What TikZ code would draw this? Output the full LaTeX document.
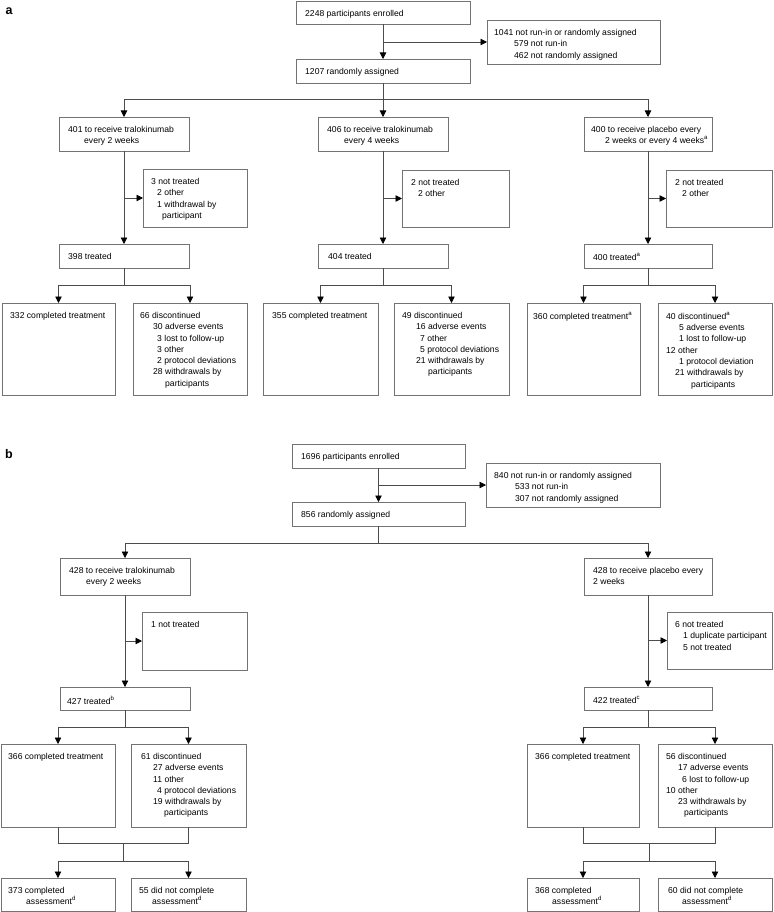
\documentclass[tikz,border=0pt]{standalone}
\usepackage{fontspec}
\setmainfont{Liberation Sans}
\usetikzlibrary{arrows.meta,calc}
\tikzset{
 box/.style={draw=black!55, line width=0.8pt, rectangle, inner sep=0pt, outer sep=0pt},
 txt/.style={anchor=north west, inner sep=0pt, align=left, font=\fontsize{8.6}{11.3}\selectfont},
 conn/.style={draw=black!70, line width=0.8pt},
 arr/.style={conn, -{Triangle[width=6.5pt,length=6.5pt,color=black]}},
 plabel/.style={font=\bfseries\fontsize{12.5}{12.5}\selectfont, inner sep=0pt}
}
\newcommand\myind[1]{\hspace*{#1pt}}
\newcommand\fsup[1]{\textsuperscript{#1}}
% name, x, y, w, h, pad, text
\newcommand\fbx[7]{%
 \node[box, minimum width=#4pt, minimum height=#5pt, anchor=north west] (#1) at (#2,#3) {};
 \node[txt] (#1t) at ([xshift=#6pt,yshift=-9pt]#1.north west) {#7};}
\begin{document}
\begin{tikzpicture}[x=1pt,y=-1pt]
\useasboundingbox (0,0) rectangle (773,912);
% ---------------- part a ----------------
\node[plabel] (pa) at (9,11) {a};
\fbx{a1}{296}{1}{174}{23}{9}{2248 participants enrolled}
\fbx{aex}{487}{20}{173}{44}{7}{1041 not run-in or randomly assigned\\ \myind{20}579 not run-in\\ \myind{20}462 not randomly assigned}
\fbx{a2}{296}{59}{174}{24}{9}{1207 randomly assigned}
\fbx{a3L}{59}{117}{130}{34}{9}{401 to receive tralokinumab\\ \myind{16}every 2 weeks}
\fbx{a3M}{318}{117}{130}{34}{9}{406 to receive tralokinumab\\ \myind{17}every 4 weeks}
\fbx{a3R}{584}{117}{128}{34}{7}{400 to receive placebo every\\ \myind{14}2 weeks or every 4 weeks\fsup{a}}
\fbx{a4L}{143}{169}{104}{58}{8}{3 not treated\\ \myind{6}2 other\\ \myind{6}1 withdrawal by\\ \myind{11}participant}
\fbx{a4M}{402}{170}{107}{57}{9}{2 not treated\\ \myind{7}2 other}
\fbx{a4R}{666}{170}{106}{57}{9}{2 not treated\\ \myind{7}2 other}
\fbx{a5L}{59}{244}{130}{24}{9}{398 treated}
\fbx{a5M}{318}{244}{130}{24}{10}{404 treated}
\fbx{a5R}{584}{244}{128}{24}{9}{400 treated\fsup{a}}
\fbx{a6L1}{2}{303}{113}{92}{8}{332 completed treatment}
\fbx{a6L2}{133}{303}{114}{92}{7}{66 discontinued\\ \myind{13}30 adverse events\\ \myind{17}3 lost to follow-up\\ \myind{17}3 other\\ \myind{17}2 protocol deviations\\ \myind{13}28 withdrawals by\\ \myind{25}participants}
\fbx{a6M1}{263}{303}{115}{92}{9}{355 completed treatment}
\fbx{a6M2}{394}{303}{115}{92}{8}{49 discontinued\\ \myind{14}16 adverse events\\ \myind{18}7 other\\ \myind{18}5 protocol deviations\\ \myind{14}21 withdrawals by\\ \myind{26}participants}
\fbx{a6R1}{527}{303}{113}{92}{6}{360 completed treatment\fsup{a}}
\fbx{a6R2}{658}{303}{114}{92}{8}{40 discontinued\fsup{a}\\ \myind{13}5 adverse events\\ \myind{13}1 lost to follow-up\\ 12 other\\ \myind{13}1 protocol deviation\\ \myind{9}21 withdrawals by\\ \myind{25}participants}
% connectors a
\draw[arr] (a1) -- (a2);
\draw[arr] (a1.south |- aex.west) -- (aex.west);
\coordinate (ja) at ($(a2.south)+(0,16)$);
\draw[conn] (a2.south) -- (ja);
\draw[arr] (ja) -| (a3L.north);
\draw[arr] (ja) -- (a3M.north);
\draw[arr] (ja) -| (a3R.north);
\foreach \c in {L,M,R}{
  \draw[arr] (a3\c.south) -- (a5\c.north);
  \draw[arr] (a3\c.south |- a4\c.west) -- (a4\c.west);
  \coordinate (ja\c) at ($(a5\c.south)+(0,17)$);
  \draw[conn] (a5\c.south) -- (ja\c);
  \draw[arr] (ja\c) -| (a6\c1.north);
  \draw[arr] (ja\c) -| (a6\c2.north);
}
% ---------------- part b ----------------
\node[plabel] (pb) at (9,454) {b};
\fbx{b1}{292}{444}{173}{24}{9}{1696 participants enrolled}
\fbx{bex}{486}{463}{174}{44}{8}{840 not run-in or randomly assigned\\ \myind{21}533 not run-in\\ \myind{21}307 not randomly assigned}
\fbx{b2}{292}{502}{173}{24}{9}{856 randomly assigned}
\fbx{b3L}{60}{558}{130}{37}{9}{428 to receive tralokinumab\\ \myind{17}every 2 weeks}
\fbx{b3R}{584}{558}{128}{37}{9}{428 to receive placebo every\\ 2 weeks}
\fbx{b4L}{142}{612}{105}{58}{9}{1 not treated}
\fbx{b4R}{667}{612}{105}{57}{8}{6 not treated\\ \myind{8}1 duplicate participant\\ \myind{8}5 not treated}
\fbx{b5L}{60}{687}{130}{23}{7}{427 treated\fsup{b}}
\fbx{b5R}{584}{687}{128}{23}{9}{422 treated\fsup{c}}
\fbx{b6L1}{1}{744}{114}{83}{7}{366 completed treatment}
\fbx{b6L2}{131}{744}{115}{83}{10}{61 discontinued\\ \myind{12}27 adverse events\\ \myind{12}11 other\\ \myind{16}4 protocol deviations\\ \myind{12}19 withdrawals by\\ \myind{23}participants}
\fbx{b6R1}{527}{744}{112}{83}{8}{366 completed treatment}
\fbx{b6R2}{658}{744}{114}{83}{8}{56 discontinued\\ \myind{12}17 adverse events\\ \myind{16}6 lost to follow-up\\ 10 other\\ \myind{12}23 withdrawals by\\ \myind{18}participants}
\fbx{b7L1}{1}{878}{114}{33}{7}{373 completed\\ \myind{18}assessment\fsup{d}}
\fbx{b7L2}{131}{878}{115}{33}{8}{55 did not complete\\ \myind{13}assessment\fsup{d}}
\fbx{b7R1}{527}{878}{112}{33}{8}{368 completed\\ \myind{17}assessment\fsup{d}}
\fbx{b7R2}{658}{878}{114}{33}{10}{60 did not complete\\ \myind{14}assessment\fsup{d}}
% connectors b
\draw[arr] (b1) -- (b2);
\draw[arr] (b1.south |- bex.west) -- (bex.west);
\coordinate (jb) at ($(b2.south)+(0,17)$);
\draw[conn] (b2.south) -- (jb);
\draw[arr] (jb) -| (b3L.north);
\draw[arr] (jb) -| (b3R.north);
\foreach \c in {L,R}{
  \draw[arr] (b3\c.south) -- (b5\c.north);
  \draw[arr] (b3\c.south |- b4\c.west) -- (b4\c.west);
  \coordinate (jb\c) at ($(b5\c.south)+(0,17)$);
  \draw[conn] (b5\c.south) -- (jb\c);
  \draw[arr] (jb\c) -| (b6\c1.north);
  \draw[arr] (jb\c) -| (b6\c2.north);
  \coordinate (m\c) at ($(b6\c1.south)+(0,16)$);
  \draw[conn] (b6\c1.south) -- (m\c) -| (b6\c2.south);
  \coordinate (mc\c) at ($(m\c)!0.5!(m\c -| b6\c2.south)$);
  \coordinate (md\c) at ($(mc\c)+(0,18)$);
  \draw[conn] (mc\c) -- (md\c);
  \draw[arr] (md\c) -| (b7\c1.north);
  \draw[arr] (md\c) -| (b7\c2.north);
}
\end{tikzpicture}
\end{document}
